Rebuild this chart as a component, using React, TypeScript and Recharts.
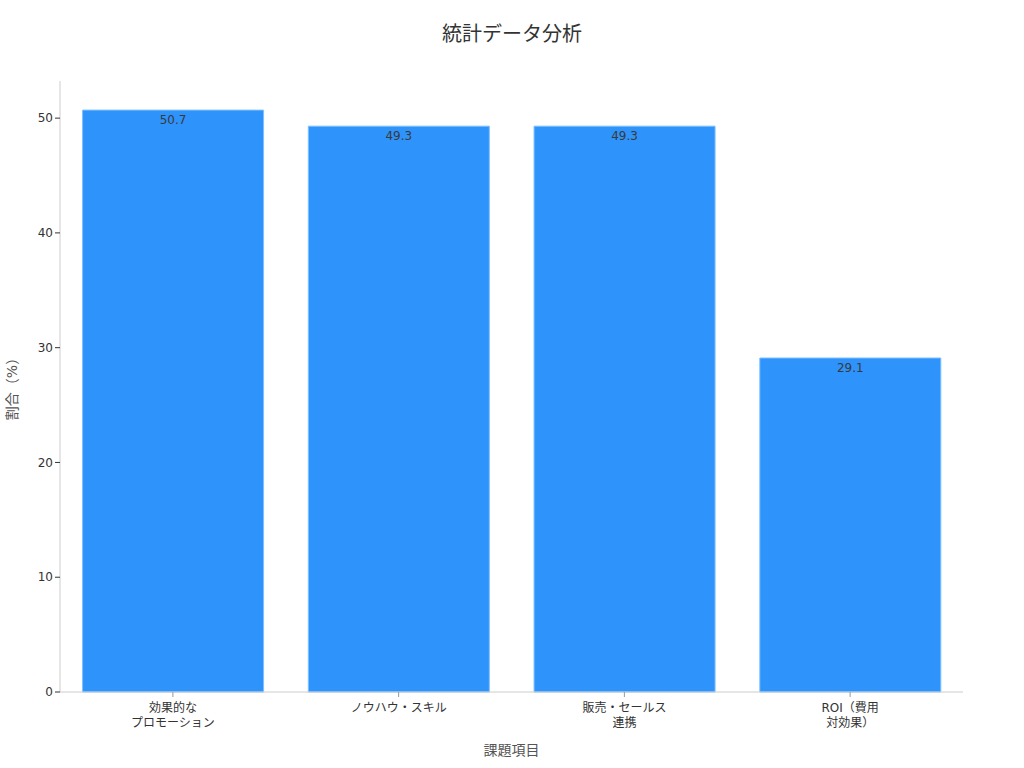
import { BarChart, Bar, XAxis, YAxis, LabelList, Label } from 'recharts'

const categories = ['効果的な\nプロモーション', 'ノウハウ・スキル', '販売・セールス\n連携', 'ROI（費用\n対効果）']
const values = [50.7, 49.3, 49.3, 29.1]
const yTicks = [0, 10, 20, 30, 40, 50]

const data = categories.map((name, i) => ({ name, value: values[i] }))

const font = '"DejaVu Sans", "Noto Sans CJK JP", sans-serif'

function CategoryTick(props: any) {
  const { x, y, payload } = props
  const lines = String(payload.value).split('\n')
  return (
    <g transform={`translate(${x},${y})`}>
      <line x1={0} y1={0} x2={0} y2={5} stroke="#999" strokeWidth={1} />
      <text textAnchor="middle" fill="#333" fontSize={12} fontFamily={font}>
        {lines.map((l, i) => (
          <tspan key={i} x={0} y={20 + i * 15}>{l}</tspan>
        ))}
      </text>
    </g>
  )
}

function YTitle(props: any) {
  const { viewBox } = props
  const cy = viewBox.y + viewBox.height / 2 - 1
  return (
    <text
      x={12}
      y={cy}
      transform={`rotate(-90, 12, ${cy})`}
      textAnchor="middle"
      dominantBaseline="central"
      fill="#555"
      fontSize={14}
      fontFamily={font}
    >
      割合（%）
    </text>
  )
}

export default function App() {
  return (
    <div style={{ position: 'absolute', left: 0, top: 0, width: 1024, height: 768, background: '#fff', fontFamily: font }}>
      <div style={{ position: 'absolute', top: 18, width: 1024, textAlign: 'center', fontSize: 20, color: '#333' }}>
        統計データ分析
      </div>
      <BarChart
        width={1024}
        height={768}
        data={data}
        margin={{ top: 81, right: 61, left: 0, bottom: 0 }}
        barCategoryGap="10%"
      >
        <XAxis
          dataKey="name"
          height={76}
          tick={<CategoryTick />}
          tickLine={false}
          tickSize={0}
          tickMargin={0}
          axisLine={{ stroke: '#ccc' }}
          interval={0}
        >
          <Label
            value="課題項目"
            position="insideBottom"
            offset={13}
            style={{ fontSize: 14, fill: '#555', fontFamily: font }}
          />
        </XAxis>
        <YAxis
          width={60}
          domain={[0, 53.235]}
          ticks={yTicks}
          tick={{ fontSize: 12, fill: '#333', fontFamily: font }}
          tickLine={{ stroke: '#333' }}
          tickSize={5}
          axisLine={{ stroke: '#ccc' }}
        >
          <Label content={<YTitle />} />
        </YAxis>
        <Bar dataKey="value" fill="#2E93FA" stroke="#7cc0ff" strokeWidth={1} isAnimationActive={false}>
          <LabelList
            dataKey="value"
            position="insideTop"
            offset={5}
            style={{ fontSize: 12, fill: '#3a3a3a', fontFamily: font }}
          />
        </Bar>
      </BarChart>
    </div>
  )
}
